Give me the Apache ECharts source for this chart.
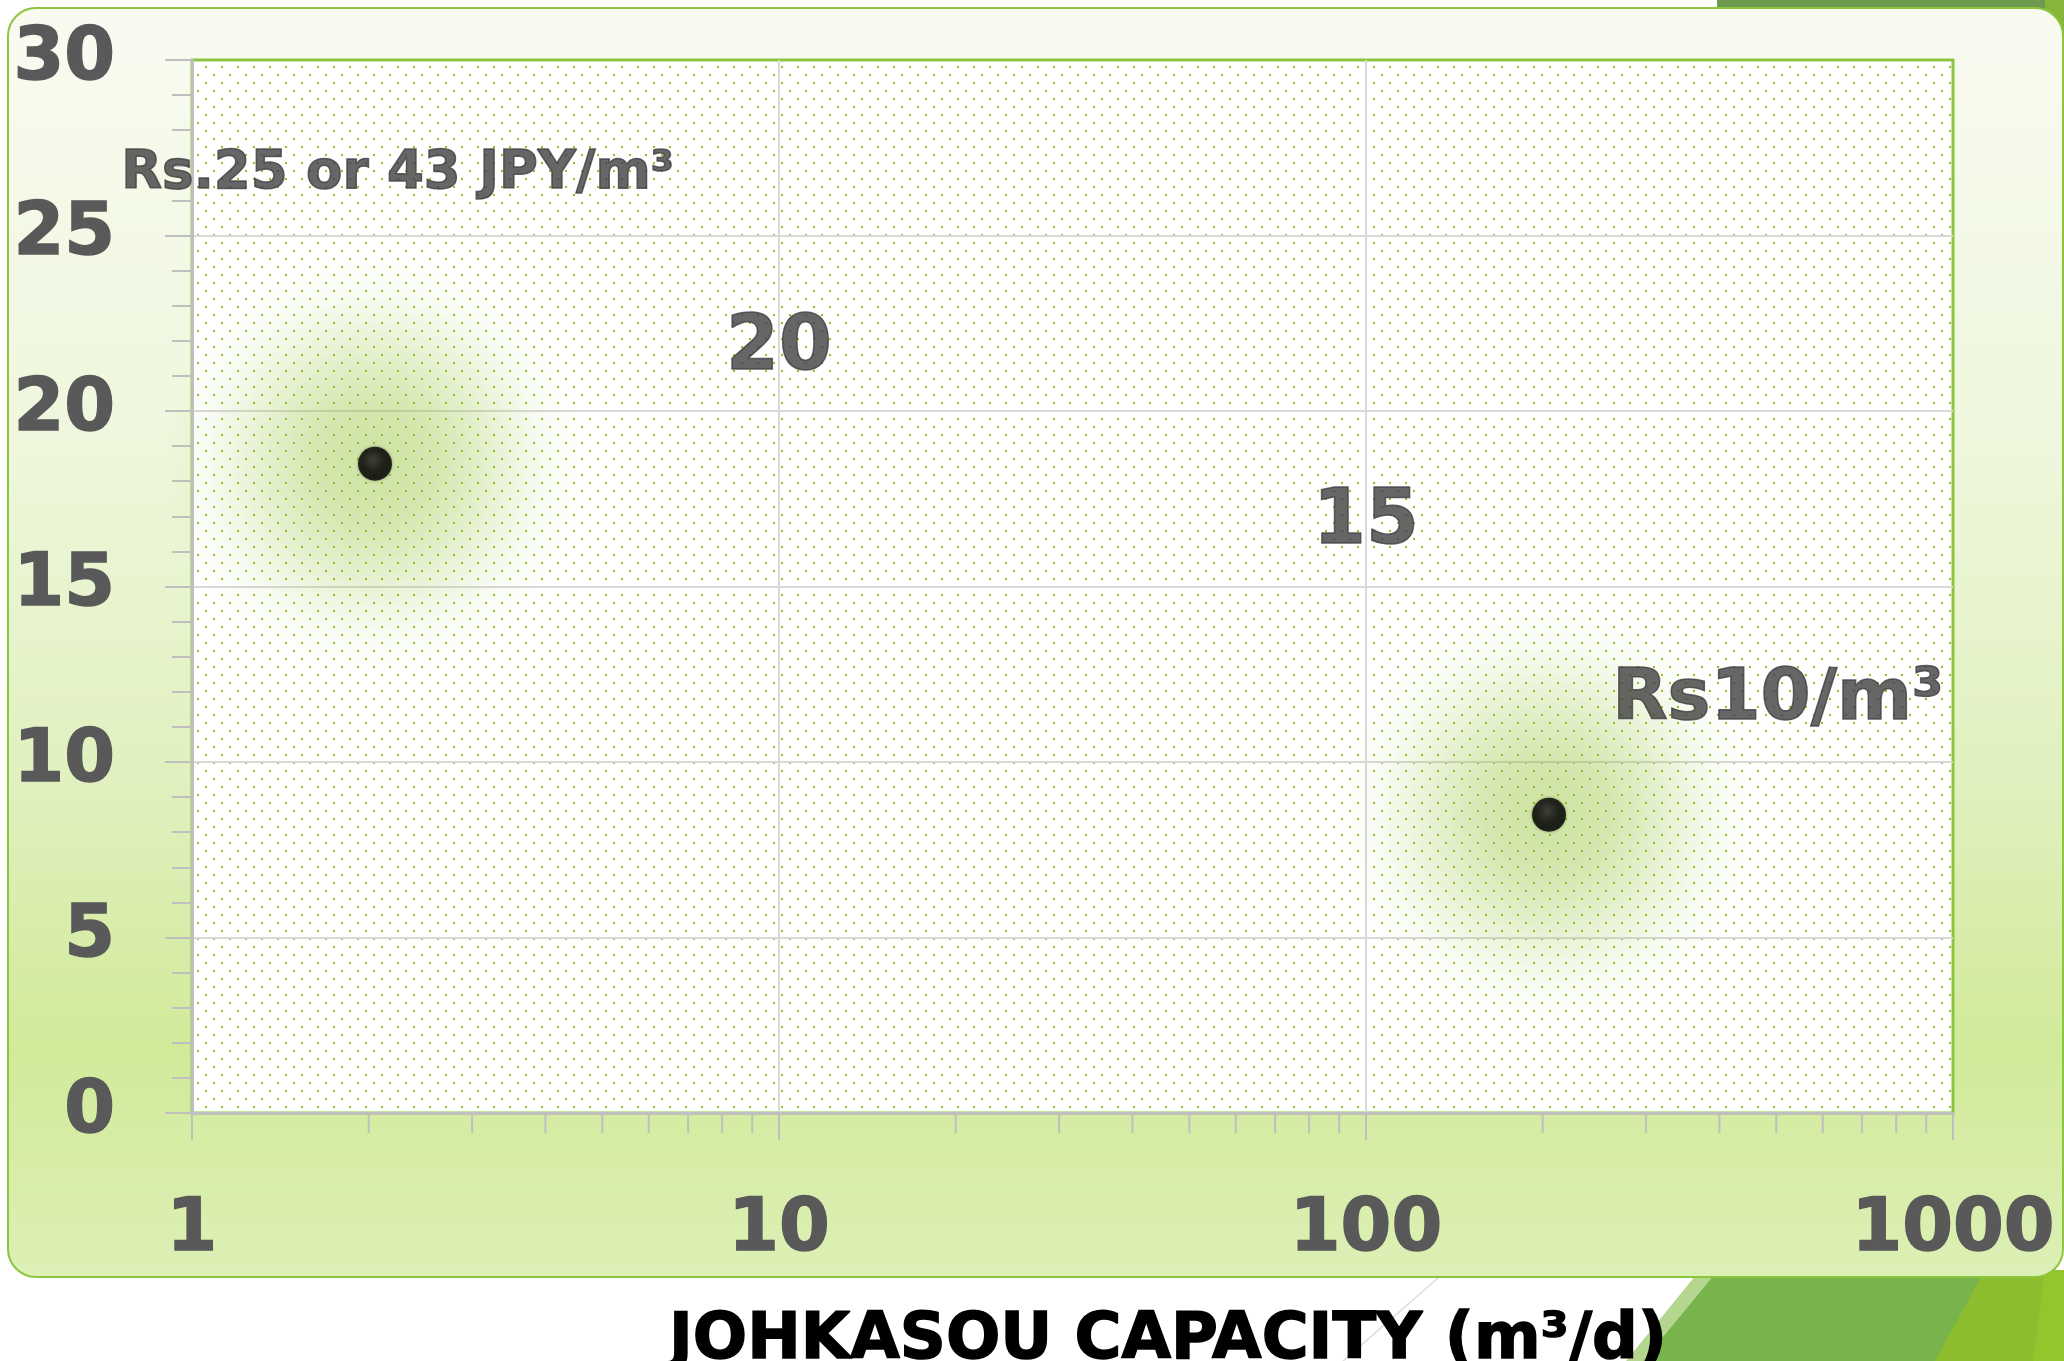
<!DOCTYPE html>
<html>
<head>
<meta charset="utf-8">
<script src="https://cdn.jsdelivr.net/npm/echarts@6/dist/echarts.min.js"></script>
<style>
html,body{margin:0;padding:0;background:#ffffff;}
#c{width:2064px;height:1361px;}
</style>
</head>
<body>
<div id="c"></div>
<script>
// ---- data ----
const capacities = [2.05, 205];          // m3/d (x, log scale)
const costs = [18.5, 8.5];               // y values
const yTickValues = [0, 5, 10, 15, 20, 25, 30];
const xTickValues = [1, 10, 100, 1000];
const xMinorTicks = [2,3,4,5,6,7,8,9,20,30,40,50,60,70,80,90,200,300,400,500,600,700,800,900];
const noteTexts = ['Rs.25 or 43 JPY/m³', '20', '15', 'Rs10/m³'];
const noteX = [2.24, 10, 100, 503];
const noteY = [26.75, 21.75, 16.8, 11.75];
const axisTitle = 'JOHKASOU CAPACITY (m³/d)';

// ---- styles ----
const FONT = "'DejaVu Sans', 'Liberation Sans', Arial, sans-serif";
const noteFontSizes = [53, 76, 76, 72];

const chart = echarts.init(document.getElementById('c'), null, {renderer: 'canvas'});

// dotted pattern for plot background
const pc = document.createElement('canvas');
pc.width = 16; pc.height = 16;
const g = pc.getContext('2d');
g.fillStyle = '#ffffff';
g.fillRect(0, 0, 16, 16);
g.fillStyle = '#8cc21f';
g.fillRect(13, 2, 2, 2);
g.fillRect(5, 10, 2, 2);

const panelFill = new echarts.graphic.LinearGradient(0, 0, 0, 1, [
  {offset: 0, color: '#f9fbf1'},
  {offset: 0.35, color: '#eef7dc'},
  {offset: 0.62, color: '#e0f0bd'},
  {offset: 0.82, color: '#d1ea9a'},
  {offset: 1, color: '#ddf0b6'}
]);

const glowColor = {
  type: 'radial', x: 0.5, y: 0.5, r: 0.5,
  colorStops: [
    {offset: 0, color: 'rgba(140,190,40,0.55)'},
    {offset: 0.3, color: 'rgba(140,190,40,0.45)'},
    {offset: 0.55, color: 'rgba(140,190,40,0.27)'},
    {offset: 0.8, color: 'rgba(140,190,40,0.08)'},
    {offset: 1, color: 'rgba(140,190,40,0)'}
  ]
};
const dotColor = {
  type: 'radial', x: 0.45, y: 0.4, r: 0.6,
  colorStops: [
    {offset: 0, color: '#2c2c2c'},
    {offset: 0.55, color: '#060606'},
    {offset: 1, color: '#000000'}
  ]
};

const axisLabelBase = {
  fontFamily: FONT, fontWeight: 'bold', fontSize: 73,
  color: '#595959', textBorderColor: '#595959', textBorderWidth: 1.5
};

const option = {
  backgroundColor: '#ffffff',
  animation: false,
  graphic: [
    {type: 'polygon', z: -20, silent: true,
     shape: {points: [[1717, 0], [2045, 0], [2045, 12], [1717, 12]]},
     style: {fill: '#6e9a50'}},
    {type: 'polygon', z: -20, silent: true,
     shape: {points: [[2045, 0], [2064, 0], [2064, 40], [2045, 12]]},
     style: {fill: '#86b53a'}},
    {type: 'polygon', z: -20, silent: true,
     shape: {points: [[1626, 1361], [1700, 1270], [1718, 1270], [1643, 1361]]},
     style: {fill: '#b4d68f'}},
    {type: 'polygon', z: -20, silent: true,
     shape: {points: [[1643, 1361], [1718, 1270], [2064, 1270], [2064, 1361]]},
     style: {fill: '#79b34b'}},
    {type: 'polygon', z: -19, silent: true,
     shape: {points: [[1935, 1361], [1985, 1270], [2064, 1270], [2064, 1361]]},
     style: {fill: '#8dbd2e'}},
    {type: 'polygon', z: -19, silent: true,
     shape: {points: [[2033, 1361], [2045, 1270], [2064, 1270], [2064, 1361]]},
     style: {fill: '#95c52c'}},
    {type: 'line', z: -19, silent: true,
     shape: {x1: 1343, y1: 1361, x2: 1438, y2: 1278},
     style: {stroke: '#dcdcdc', lineWidth: 1.5}},
    {type: 'rect', z: -10, silent: true,
     shape: {x: 8, y: 8, width: 2055, height: 1269, r: 28},
     style: {fill: panelFill, stroke: '#8cc63f', lineWidth: 2}},
    {type: 'text', z: 10, silent: true,
     x: 1168, y: 1341,
     style: {text: axisTitle, font: 'bold 64px ' + FONT, fill: '#000000',
             stroke: '#000000', lineWidth: 1.5, align: 'center', verticalAlign: 'middle'}}
  ],
  grid: {
    show: true, left: 192, top: 60, right: 111, bottom: 248,
    backgroundColor: {image: pc, repeat: 'repeat'},
    borderColor: '#8cc63f', borderWidth: 3
  },
  xAxis: {
    type: 'log', logBase: 10, min: xTickValues[0], max: xTickValues[xTickValues.length - 1],
    axisLine: {show: true, onZero: false, lineStyle: {color: '#bfbfbf', width: 3}},
    axisTick: {show: true, length: 27, lineStyle: {color: '#bfbfbf', width: 2}},
    splitLine: {show: true, showMinLine: false, showMaxLine: false, lineStyle: {color: '#d9d9d9', width: 2}},
    axisLabel: Object.assign({}, axisLabelBase, {
      margin: 82,
      formatter: function (v) { return String(Math.round(v)); }
    })
  },
  yAxis: {
    type: 'value', min: yTickValues[0], max: yTickValues[yTickValues.length - 1], interval: 5,
    axisLine: {show: true, lineStyle: {color: '#bfbfbf', width: 3}},
    axisTick: {show: true, length: 27, lineStyle: {color: '#bfbfbf', width: 2}},
    minorTick: {show: true, splitNumber: 5, length: 20, lineStyle: {color: '#bfbfbf', width: 2}},
    splitLine: {show: true, showMinLine: false, showMaxLine: false, lineStyle: {color: '#d9d9d9', width: 2}},
    axisLabel: Object.assign({}, axisLabelBase, {margin: 77, padding: [0, 0, 6, 0]})
  },
  series: [
    {
      type: 'custom', name: 'minorTicksX', silent: true, clip: false, z: 3,
      data: xMinorTicks.map(function (v) { return [v, 0]; }),
      encode: {x: 0, y: 1},
      renderItem: function (params, api) {
        const p = api.coord([api.value(0), api.value(1)]);
        return {type: 'line', shape: {x1: p[0], y1: p[1], x2: p[0], y2: p[1] + 20},
                style: {stroke: '#bfbfbf', lineWidth: 2}};
      }
    },
    {
      type: 'scatter', name: 'glow', silent: true, clip: false, z: 1,
      symbolSize: 420,
      itemStyle: {color: glowColor},
      data: capacities.map(function (x, i) { return [x, costs[i]]; })
    },
    {
      type: 'scatter', name: 'cost', silent: true, clip: false, z: 5,
      symbolSize: 34,
      itemStyle: {color: dotColor, shadowBlur: 3, shadowColor: 'rgba(0,0,0,0.45)'},
      data: capacities.map(function (x, i) { return [x, costs[i]]; })
    },
    {
      type: 'scatter', name: 'notes', silent: true, clip: false, z: 6,
      symbolSize: 1,
      itemStyle: {color: 'rgba(0,0,0,0)'},
      data: noteX.map(function (x, i) {
        return {value: [x, noteY[i]], label: {fontSize: noteFontSizes[i]}};
      }),
      label: {
        show: true, position: 'inside',
        formatter: function (p) { return noteTexts[p.dataIndex]; },
        fontFamily: FONT, fontWeight: 'bold', color: '#404040',
        textBorderColor: '#404040', textBorderWidth: 1.5
      }
    }
  ]
};
chart.setOption(option);
</script>
</body>
</html>
